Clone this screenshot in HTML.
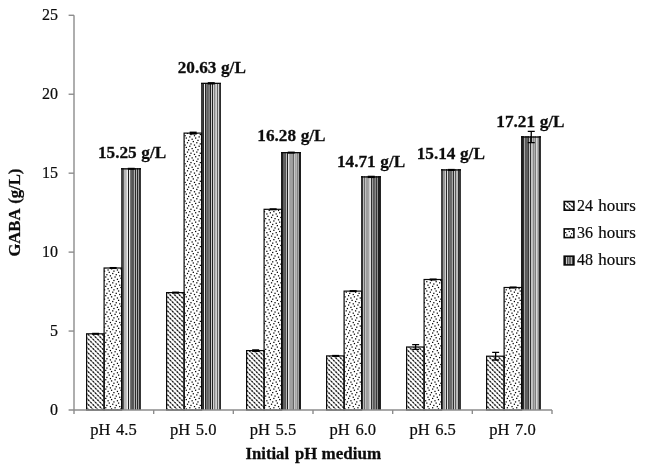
<!DOCTYPE html>
<html lang="en"><head><meta charset="utf-8"><title>GABA vs initial pH</title>
<style>
html,body{margin:0;padding:0;background:#fff;}
body{width:645px;height:472px;overflow:hidden;}
svg{display:block;}
text{font-family:"Liberation Serif","Times New Roman",serif;font-size:16px;fill:#0c0c0c;stroke:#0c0c0c;stroke-width:0.2px;}
.b{font-weight:bold;stroke-width:0.25px;}
</style></head><body>
<svg width="645" height="472" viewBox="0 0 645 472">
<defs>
<clipPath id="c24"><rect x="86.6" y="333.8" width="17.5" height="76.2"/><rect x="166.6" y="292.6" width="17.5" height="117.4"/><rect x="246.6" y="350.6" width="17.5" height="59.4"/><rect x="326.6" y="355.9" width="17.5" height="54.1"/><rect x="406.6" y="347" width="17.5" height="63"/><rect x="486.6" y="356.2" width="17.5" height="53.8"/><rect x="564.2" y="201.5" width="9.7" height="8.7"/></clipPath>
<clipPath id="c36"><rect x="104.1" y="268" width="17.5" height="142"/><rect x="184.1" y="133.1" width="17.5" height="276.9"/><rect x="264.1" y="209.3" width="17.5" height="200.7"/><rect x="344.1" y="291.1" width="17.5" height="118.9"/><rect x="424.1" y="279.5" width="17.5" height="130.5"/><rect x="504.1" y="287.5" width="17.5" height="122.5"/><rect x="564.2" y="228.9" width="9.7" height="8.7"/></clipPath>
<clipPath id="c48"><rect x="121.6" y="168.8" width="18.7" height="241.2"/><rect x="201.6" y="83.3" width="18.7" height="326.7"/><rect x="281.6" y="152.6" width="18.7" height="257.4"/><rect x="361.6" y="176.9" width="18.7" height="233.1"/><rect x="441.6" y="169.9" width="18.7" height="240.1"/><rect x="521.6" y="137" width="18.7" height="273"/><rect x="564.2" y="256.2" width="9.7" height="8.7"/></clipPath>
<g id="t"><rect x="0" y="0" width="1.25" height="1.25"/><rect x="3.5" y="1.17" width="1.25" height="1.25"/><rect x="7" y="2.33" width="1.25" height="1.25"/><rect x="2.33" y="3.5" width="1.25" height="1.25"/><rect x="8.17" y="4.67" width="1.25" height="1.25"/><rect x="4.67" y="5.84" width="1.25" height="1.25"/><rect x="1.17" y="7" width="1.25" height="1.25"/><rect x="5.84" y="8.17" width="1.25" height="1.25"/></g>
</defs>
<rect width="645" height="472" fill="#fff"/>
<g clip-path="url(#c24)" fill="none"><path d="M574.35,194.81L578,198.46M569.68,194.81L578,203.13M565.01,194.81L578,207.8M560.34,194.81L578,212.47M555.67,194.81L578,217.14M551,194.81L578,221.81M546.33,194.81L578,226.48M541.66,194.81L578,231.15M536.99,194.81L578,235.82M532.32,194.81L578,240.49M527.65,194.81L578,245.16M522.98,194.81L578,249.83M518.31,194.81L578,254.5M513.64,194.81L578,259.17M508.97,194.81L578,263.84M504.3,194.81L578,268.51M499.63,194.81L578,273.18M494.96,194.81L578,277.85M490.29,194.81L578,282.52M485.62,194.81L578,287.19M480.95,194.81L578,291.86M476.28,194.81L578,296.53M471.61,194.81L578,301.2M466.94,194.81L578,305.87M462.27,194.81L578,310.54M457.6,194.81L578,315.21M452.93,194.81L578,319.88M448.26,194.81L578,324.55M443.59,194.81L578,329.22M438.92,194.81L578,333.89M434.25,194.81L578,338.56M429.58,194.81L578,343.23M424.91,194.81L578,347.9M420.24,194.81L578,352.57M415.57,194.81L578,357.24M410.9,194.81L578,361.91M406.23,194.81L578,366.58M401.56,194.81L578,371.25M396.89,194.81L578,375.92M392.22,194.81L578,380.59M387.55,194.81L578,385.26M382.88,194.81L578,389.93M378.21,194.81L578,394.6M373.54,194.81L578,399.27M368.87,194.81L578,403.94M364.2,194.81L578,408.61M359.53,194.81L576.72,412M354.86,194.81L572.05,412M350.19,194.81L567.38,412M345.52,194.81L562.71,412M340.85,194.81L558.04,412M336.18,194.81L553.37,412M331.51,194.81L548.7,412M326.84,194.81L544.03,412M322.17,194.81L539.36,412M317.5,194.81L534.69,412M312.83,194.81L530.02,412M308.16,194.81L525.35,412M303.49,194.81L520.68,412M298.82,194.81L516.01,412M294.15,194.81L511.34,412M289.48,194.81L506.67,412M284.81,194.81L502,412M280.14,194.81L497.33,412M275.47,194.81L492.66,412M270.8,194.81L487.99,412M266.13,194.81L483.32,412M261.46,194.81L478.65,412M256.79,194.81L473.98,412M252.12,194.81L469.31,412M247.45,194.81L464.64,412M242.78,194.81L459.97,412M238.11,194.81L455.3,412M233.44,194.81L450.63,412M228.77,194.81L445.96,412M224.1,194.81L441.29,412M219.43,194.81L436.62,412M214.76,194.81L431.95,412M210.09,194.81L427.28,412M205.42,194.81L422.61,412M200.75,194.81L417.94,412M196.08,194.81L413.27,412M191.41,194.81L408.6,412M186.74,194.81L403.93,412M182.07,194.81L399.26,412M177.4,194.81L394.59,412M172.73,194.81L389.92,412M168.06,194.81L385.25,412M163.39,194.81L380.58,412M158.72,194.81L375.91,412M154.05,194.81L371.24,412M149.38,194.81L366.57,412M144.71,194.81L361.9,412M140.04,194.81L357.23,412M135.37,194.81L352.56,412M130.7,194.81L347.89,412M126.03,194.81L343.22,412M121.36,194.81L338.55,412M116.69,194.81L333.88,412M112.02,194.81L329.21,412M107.35,194.81L324.54,412M102.68,194.81L319.87,412M98.01,194.81L315.2,412M93.34,194.81L310.53,412M88.67,194.81L305.86,412M84,194.81L301.19,412M84,199.48L296.52,412M84,204.15L291.85,412M84,208.82L287.18,412M84,213.49L282.51,412M84,218.16L277.84,412M84,222.83L273.17,412M84,227.5L268.5,412M84,232.17L263.83,412M84,236.84L259.16,412M84,241.51L254.49,412M84,246.18L249.82,412M84,250.85L245.15,412M84,255.52L240.48,412M84,260.19L235.81,412M84,264.86L231.14,412M84,269.53L226.47,412M84,274.2L221.8,412M84,278.87L217.13,412M84,283.54L212.46,412M84,288.21L207.79,412M84,292.88L203.12,412M84,297.55L198.45,412M84,302.22L193.78,412M84,306.89L189.11,412M84,311.56L184.44,412M84,316.23L179.77,412M84,320.9L175.1,412M84,325.57L170.43,412M84,330.24L165.76,412M84,334.91L161.09,412M84,339.58L156.42,412M84,344.25L151.75,412M84,348.92L147.08,412M84,353.59L142.41,412M84,358.26L137.74,412M84,362.93L133.07,412M84,367.6L128.4,412M84,372.27L123.73,412M84,376.94L119.06,412M84,381.61L114.39,412M84,386.28L109.72,412M84,390.95L105.05,412M84,395.62L100.38,412M84,400.29L95.71,412M84,404.96L91.04,412M84,409.63L86.37,412" stroke="#888" stroke-width="1.2"/>
<path d="M574.35,194.81L578,198.46M569.68,194.81L578,203.13M565.01,194.81L578,207.8M560.34,194.81L578,212.47M555.67,194.81L578,217.14M551,194.81L578,221.81M546.33,194.81L578,226.48M541.66,194.81L578,231.15M536.99,194.81L578,235.82M532.32,194.81L578,240.49M527.65,194.81L578,245.16M522.98,194.81L578,249.83M518.31,194.81L578,254.5M513.64,194.81L578,259.17M508.97,194.81L578,263.84M504.3,194.81L578,268.51M499.63,194.81L578,273.18M494.96,194.81L578,277.85M490.29,194.81L578,282.52M485.62,194.81L578,287.19M480.95,194.81L578,291.86M476.28,194.81L578,296.53M471.61,194.81L578,301.2M466.94,194.81L578,305.87M462.27,194.81L578,310.54M457.6,194.81L578,315.21M452.93,194.81L578,319.88M448.26,194.81L578,324.55M443.59,194.81L578,329.22M438.92,194.81L578,333.89M434.25,194.81L578,338.56M429.58,194.81L578,343.23M424.91,194.81L578,347.9M420.24,194.81L578,352.57M415.57,194.81L578,357.24M410.9,194.81L578,361.91M406.23,194.81L578,366.58M401.56,194.81L578,371.25M396.89,194.81L578,375.92M392.22,194.81L578,380.59M387.55,194.81L578,385.26M382.88,194.81L578,389.93M378.21,194.81L578,394.6M373.54,194.81L578,399.27M368.87,194.81L578,403.94M364.2,194.81L578,408.61M359.53,194.81L576.72,412M354.86,194.81L572.05,412M350.19,194.81L567.38,412M345.52,194.81L562.71,412M340.85,194.81L558.04,412M336.18,194.81L553.37,412M331.51,194.81L548.7,412M326.84,194.81L544.03,412M322.17,194.81L539.36,412M317.5,194.81L534.69,412M312.83,194.81L530.02,412M308.16,194.81L525.35,412M303.49,194.81L520.68,412M298.82,194.81L516.01,412M294.15,194.81L511.34,412M289.48,194.81L506.67,412M284.81,194.81L502,412M280.14,194.81L497.33,412M275.47,194.81L492.66,412M270.8,194.81L487.99,412M266.13,194.81L483.32,412M261.46,194.81L478.65,412M256.79,194.81L473.98,412M252.12,194.81L469.31,412M247.45,194.81L464.64,412M242.78,194.81L459.97,412M238.11,194.81L455.3,412M233.44,194.81L450.63,412M228.77,194.81L445.96,412M224.1,194.81L441.29,412M219.43,194.81L436.62,412M214.76,194.81L431.95,412M210.09,194.81L427.28,412M205.42,194.81L422.61,412M200.75,194.81L417.94,412M196.08,194.81L413.27,412M191.41,194.81L408.6,412M186.74,194.81L403.93,412M182.07,194.81L399.26,412M177.4,194.81L394.59,412M172.73,194.81L389.92,412M168.06,194.81L385.25,412M163.39,194.81L380.58,412M158.72,194.81L375.91,412M154.05,194.81L371.24,412M149.38,194.81L366.57,412M144.71,194.81L361.9,412M140.04,194.81L357.23,412M135.37,194.81L352.56,412M130.7,194.81L347.89,412M126.03,194.81L343.22,412M121.36,194.81L338.55,412M116.69,194.81L333.88,412M112.02,194.81L329.21,412M107.35,194.81L324.54,412M102.68,194.81L319.87,412M98.01,194.81L315.2,412M93.34,194.81L310.53,412M88.67,194.81L305.86,412M84,194.81L301.19,412M84,199.48L296.52,412M84,204.15L291.85,412M84,208.82L287.18,412M84,213.49L282.51,412M84,218.16L277.84,412M84,222.83L273.17,412M84,227.5L268.5,412M84,232.17L263.83,412M84,236.84L259.16,412M84,241.51L254.49,412M84,246.18L249.82,412M84,250.85L245.15,412M84,255.52L240.48,412M84,260.19L235.81,412M84,264.86L231.14,412M84,269.53L226.47,412M84,274.2L221.8,412M84,278.87L217.13,412M84,283.54L212.46,412M84,288.21L207.79,412M84,292.88L203.12,412M84,297.55L198.45,412M84,302.22L193.78,412M84,306.89L189.11,412M84,311.56L184.44,412M84,316.23L179.77,412M84,320.9L175.1,412M84,325.57L170.43,412M84,330.24L165.76,412M84,334.91L161.09,412M84,339.58L156.42,412M84,344.25L151.75,412M84,348.92L147.08,412M84,353.59L142.41,412M84,358.26L137.74,412M84,362.93L133.07,412M84,367.6L128.4,412M84,372.27L123.73,412M84,376.94L119.06,412M84,381.61L114.39,412M84,386.28L109.72,412M84,390.95L105.05,412M84,395.62L100.38,412M84,400.29L95.71,412M84,404.96L91.04,412M84,409.63L86.37,412" stroke="#141414" stroke-width="1.25" stroke-dasharray="1.45 1.8522" stroke-dashoffset="0.72"/></g>
<g clip-path="url(#c36)" fill="#000">
<use href="#t" x="102.79" y="263.54"/>
<use href="#t" x="102.79" y="272.88"/>
<use href="#t" x="102.79" y="282.22"/>
<use href="#t" x="102.79" y="291.56"/>
<use href="#t" x="102.79" y="300.9"/>
<use href="#t" x="102.79" y="310.24"/>
<use href="#t" x="102.79" y="319.58"/>
<use href="#t" x="102.79" y="328.92"/>
<use href="#t" x="102.79" y="338.26"/>
<use href="#t" x="102.79" y="347.6"/>
<use href="#t" x="102.79" y="356.94"/>
<use href="#t" x="102.79" y="366.28"/>
<use href="#t" x="102.79" y="375.62"/>
<use href="#t" x="102.79" y="384.96"/>
<use href="#t" x="102.79" y="394.3"/>
<use href="#t" x="102.79" y="403.64"/>
<use href="#t" x="112.13" y="263.54"/>
<use href="#t" x="112.13" y="272.88"/>
<use href="#t" x="112.13" y="282.22"/>
<use href="#t" x="112.13" y="291.56"/>
<use href="#t" x="112.13" y="300.9"/>
<use href="#t" x="112.13" y="310.24"/>
<use href="#t" x="112.13" y="319.58"/>
<use href="#t" x="112.13" y="328.92"/>
<use href="#t" x="112.13" y="338.26"/>
<use href="#t" x="112.13" y="347.6"/>
<use href="#t" x="112.13" y="356.94"/>
<use href="#t" x="112.13" y="366.28"/>
<use href="#t" x="112.13" y="375.62"/>
<use href="#t" x="112.13" y="384.96"/>
<use href="#t" x="112.13" y="394.3"/>
<use href="#t" x="112.13" y="403.64"/>
<use href="#t" x="121.47" y="263.54"/>
<use href="#t" x="121.47" y="272.88"/>
<use href="#t" x="121.47" y="282.22"/>
<use href="#t" x="121.47" y="291.56"/>
<use href="#t" x="121.47" y="300.9"/>
<use href="#t" x="121.47" y="310.24"/>
<use href="#t" x="121.47" y="319.58"/>
<use href="#t" x="121.47" y="328.92"/>
<use href="#t" x="121.47" y="338.26"/>
<use href="#t" x="121.47" y="347.6"/>
<use href="#t" x="121.47" y="356.94"/>
<use href="#t" x="121.47" y="366.28"/>
<use href="#t" x="121.47" y="375.62"/>
<use href="#t" x="121.47" y="384.96"/>
<use href="#t" x="121.47" y="394.3"/>
<use href="#t" x="121.47" y="403.64"/>
<use href="#t" x="177.51" y="132.78"/>
<use href="#t" x="177.51" y="142.12"/>
<use href="#t" x="177.51" y="151.46"/>
<use href="#t" x="177.51" y="160.8"/>
<use href="#t" x="177.51" y="170.14"/>
<use href="#t" x="177.51" y="179.48"/>
<use href="#t" x="177.51" y="188.82"/>
<use href="#t" x="177.51" y="198.16"/>
<use href="#t" x="177.51" y="207.5"/>
<use href="#t" x="177.51" y="216.84"/>
<use href="#t" x="177.51" y="226.18"/>
<use href="#t" x="177.51" y="235.52"/>
<use href="#t" x="177.51" y="244.86"/>
<use href="#t" x="177.51" y="254.2"/>
<use href="#t" x="177.51" y="263.54"/>
<use href="#t" x="177.51" y="272.88"/>
<use href="#t" x="177.51" y="282.22"/>
<use href="#t" x="177.51" y="291.56"/>
<use href="#t" x="177.51" y="300.9"/>
<use href="#t" x="177.51" y="310.24"/>
<use href="#t" x="177.51" y="319.58"/>
<use href="#t" x="177.51" y="328.92"/>
<use href="#t" x="177.51" y="338.26"/>
<use href="#t" x="177.51" y="347.6"/>
<use href="#t" x="177.51" y="356.94"/>
<use href="#t" x="177.51" y="366.28"/>
<use href="#t" x="177.51" y="375.62"/>
<use href="#t" x="177.51" y="384.96"/>
<use href="#t" x="177.51" y="394.3"/>
<use href="#t" x="177.51" y="403.64"/>
<use href="#t" x="186.85" y="132.78"/>
<use href="#t" x="186.85" y="142.12"/>
<use href="#t" x="186.85" y="151.46"/>
<use href="#t" x="186.85" y="160.8"/>
<use href="#t" x="186.85" y="170.14"/>
<use href="#t" x="186.85" y="179.48"/>
<use href="#t" x="186.85" y="188.82"/>
<use href="#t" x="186.85" y="198.16"/>
<use href="#t" x="186.85" y="207.5"/>
<use href="#t" x="186.85" y="216.84"/>
<use href="#t" x="186.85" y="226.18"/>
<use href="#t" x="186.85" y="235.52"/>
<use href="#t" x="186.85" y="244.86"/>
<use href="#t" x="186.85" y="254.2"/>
<use href="#t" x="186.85" y="263.54"/>
<use href="#t" x="186.85" y="272.88"/>
<use href="#t" x="186.85" y="282.22"/>
<use href="#t" x="186.85" y="291.56"/>
<use href="#t" x="186.85" y="300.9"/>
<use href="#t" x="186.85" y="310.24"/>
<use href="#t" x="186.85" y="319.58"/>
<use href="#t" x="186.85" y="328.92"/>
<use href="#t" x="186.85" y="338.26"/>
<use href="#t" x="186.85" y="347.6"/>
<use href="#t" x="186.85" y="356.94"/>
<use href="#t" x="186.85" y="366.28"/>
<use href="#t" x="186.85" y="375.62"/>
<use href="#t" x="186.85" y="384.96"/>
<use href="#t" x="186.85" y="394.3"/>
<use href="#t" x="186.85" y="403.64"/>
<use href="#t" x="196.19" y="132.78"/>
<use href="#t" x="196.19" y="142.12"/>
<use href="#t" x="196.19" y="151.46"/>
<use href="#t" x="196.19" y="160.8"/>
<use href="#t" x="196.19" y="170.14"/>
<use href="#t" x="196.19" y="179.48"/>
<use href="#t" x="196.19" y="188.82"/>
<use href="#t" x="196.19" y="198.16"/>
<use href="#t" x="196.19" y="207.5"/>
<use href="#t" x="196.19" y="216.84"/>
<use href="#t" x="196.19" y="226.18"/>
<use href="#t" x="196.19" y="235.52"/>
<use href="#t" x="196.19" y="244.86"/>
<use href="#t" x="196.19" y="254.2"/>
<use href="#t" x="196.19" y="263.54"/>
<use href="#t" x="196.19" y="272.88"/>
<use href="#t" x="196.19" y="282.22"/>
<use href="#t" x="196.19" y="291.56"/>
<use href="#t" x="196.19" y="300.9"/>
<use href="#t" x="196.19" y="310.24"/>
<use href="#t" x="196.19" y="319.58"/>
<use href="#t" x="196.19" y="328.92"/>
<use href="#t" x="196.19" y="338.26"/>
<use href="#t" x="196.19" y="347.6"/>
<use href="#t" x="196.19" y="356.94"/>
<use href="#t" x="196.19" y="366.28"/>
<use href="#t" x="196.19" y="375.62"/>
<use href="#t" x="196.19" y="384.96"/>
<use href="#t" x="196.19" y="394.3"/>
<use href="#t" x="196.19" y="403.64"/>
<use href="#t" x="261.57" y="207.5"/>
<use href="#t" x="261.57" y="216.84"/>
<use href="#t" x="261.57" y="226.18"/>
<use href="#t" x="261.57" y="235.52"/>
<use href="#t" x="261.57" y="244.86"/>
<use href="#t" x="261.57" y="254.2"/>
<use href="#t" x="261.57" y="263.54"/>
<use href="#t" x="261.57" y="272.88"/>
<use href="#t" x="261.57" y="282.22"/>
<use href="#t" x="261.57" y="291.56"/>
<use href="#t" x="261.57" y="300.9"/>
<use href="#t" x="261.57" y="310.24"/>
<use href="#t" x="261.57" y="319.58"/>
<use href="#t" x="261.57" y="328.92"/>
<use href="#t" x="261.57" y="338.26"/>
<use href="#t" x="261.57" y="347.6"/>
<use href="#t" x="261.57" y="356.94"/>
<use href="#t" x="261.57" y="366.28"/>
<use href="#t" x="261.57" y="375.62"/>
<use href="#t" x="261.57" y="384.96"/>
<use href="#t" x="261.57" y="394.3"/>
<use href="#t" x="261.57" y="403.64"/>
<use href="#t" x="270.91" y="207.5"/>
<use href="#t" x="270.91" y="216.84"/>
<use href="#t" x="270.91" y="226.18"/>
<use href="#t" x="270.91" y="235.52"/>
<use href="#t" x="270.91" y="244.86"/>
<use href="#t" x="270.91" y="254.2"/>
<use href="#t" x="270.91" y="263.54"/>
<use href="#t" x="270.91" y="272.88"/>
<use href="#t" x="270.91" y="282.22"/>
<use href="#t" x="270.91" y="291.56"/>
<use href="#t" x="270.91" y="300.9"/>
<use href="#t" x="270.91" y="310.24"/>
<use href="#t" x="270.91" y="319.58"/>
<use href="#t" x="270.91" y="328.92"/>
<use href="#t" x="270.91" y="338.26"/>
<use href="#t" x="270.91" y="347.6"/>
<use href="#t" x="270.91" y="356.94"/>
<use href="#t" x="270.91" y="366.28"/>
<use href="#t" x="270.91" y="375.62"/>
<use href="#t" x="270.91" y="384.96"/>
<use href="#t" x="270.91" y="394.3"/>
<use href="#t" x="270.91" y="403.64"/>
<use href="#t" x="280.25" y="207.5"/>
<use href="#t" x="280.25" y="216.84"/>
<use href="#t" x="280.25" y="226.18"/>
<use href="#t" x="280.25" y="235.52"/>
<use href="#t" x="280.25" y="244.86"/>
<use href="#t" x="280.25" y="254.2"/>
<use href="#t" x="280.25" y="263.54"/>
<use href="#t" x="280.25" y="272.88"/>
<use href="#t" x="280.25" y="282.22"/>
<use href="#t" x="280.25" y="291.56"/>
<use href="#t" x="280.25" y="300.9"/>
<use href="#t" x="280.25" y="310.24"/>
<use href="#t" x="280.25" y="319.58"/>
<use href="#t" x="280.25" y="328.92"/>
<use href="#t" x="280.25" y="338.26"/>
<use href="#t" x="280.25" y="347.6"/>
<use href="#t" x="280.25" y="356.94"/>
<use href="#t" x="280.25" y="366.28"/>
<use href="#t" x="280.25" y="375.62"/>
<use href="#t" x="280.25" y="384.96"/>
<use href="#t" x="280.25" y="394.3"/>
<use href="#t" x="280.25" y="403.64"/>
<use href="#t" x="336.29" y="282.22"/>
<use href="#t" x="336.29" y="291.56"/>
<use href="#t" x="336.29" y="300.9"/>
<use href="#t" x="336.29" y="310.24"/>
<use href="#t" x="336.29" y="319.58"/>
<use href="#t" x="336.29" y="328.92"/>
<use href="#t" x="336.29" y="338.26"/>
<use href="#t" x="336.29" y="347.6"/>
<use href="#t" x="336.29" y="356.94"/>
<use href="#t" x="336.29" y="366.28"/>
<use href="#t" x="336.29" y="375.62"/>
<use href="#t" x="336.29" y="384.96"/>
<use href="#t" x="336.29" y="394.3"/>
<use href="#t" x="336.29" y="403.64"/>
<use href="#t" x="345.63" y="282.22"/>
<use href="#t" x="345.63" y="291.56"/>
<use href="#t" x="345.63" y="300.9"/>
<use href="#t" x="345.63" y="310.24"/>
<use href="#t" x="345.63" y="319.58"/>
<use href="#t" x="345.63" y="328.92"/>
<use href="#t" x="345.63" y="338.26"/>
<use href="#t" x="345.63" y="347.6"/>
<use href="#t" x="345.63" y="356.94"/>
<use href="#t" x="345.63" y="366.28"/>
<use href="#t" x="345.63" y="375.62"/>
<use href="#t" x="345.63" y="384.96"/>
<use href="#t" x="345.63" y="394.3"/>
<use href="#t" x="345.63" y="403.64"/>
<use href="#t" x="354.97" y="282.22"/>
<use href="#t" x="354.97" y="291.56"/>
<use href="#t" x="354.97" y="300.9"/>
<use href="#t" x="354.97" y="310.24"/>
<use href="#t" x="354.97" y="319.58"/>
<use href="#t" x="354.97" y="328.92"/>
<use href="#t" x="354.97" y="338.26"/>
<use href="#t" x="354.97" y="347.6"/>
<use href="#t" x="354.97" y="356.94"/>
<use href="#t" x="354.97" y="366.28"/>
<use href="#t" x="354.97" y="375.62"/>
<use href="#t" x="354.97" y="384.96"/>
<use href="#t" x="354.97" y="394.3"/>
<use href="#t" x="354.97" y="403.64"/>
<use href="#t" x="420.35" y="272.88"/>
<use href="#t" x="420.35" y="282.22"/>
<use href="#t" x="420.35" y="291.56"/>
<use href="#t" x="420.35" y="300.9"/>
<use href="#t" x="420.35" y="310.24"/>
<use href="#t" x="420.35" y="319.58"/>
<use href="#t" x="420.35" y="328.92"/>
<use href="#t" x="420.35" y="338.26"/>
<use href="#t" x="420.35" y="347.6"/>
<use href="#t" x="420.35" y="356.94"/>
<use href="#t" x="420.35" y="366.28"/>
<use href="#t" x="420.35" y="375.62"/>
<use href="#t" x="420.35" y="384.96"/>
<use href="#t" x="420.35" y="394.3"/>
<use href="#t" x="420.35" y="403.64"/>
<use href="#t" x="429.69" y="272.88"/>
<use href="#t" x="429.69" y="282.22"/>
<use href="#t" x="429.69" y="291.56"/>
<use href="#t" x="429.69" y="300.9"/>
<use href="#t" x="429.69" y="310.24"/>
<use href="#t" x="429.69" y="319.58"/>
<use href="#t" x="429.69" y="328.92"/>
<use href="#t" x="429.69" y="338.26"/>
<use href="#t" x="429.69" y="347.6"/>
<use href="#t" x="429.69" y="356.94"/>
<use href="#t" x="429.69" y="366.28"/>
<use href="#t" x="429.69" y="375.62"/>
<use href="#t" x="429.69" y="384.96"/>
<use href="#t" x="429.69" y="394.3"/>
<use href="#t" x="429.69" y="403.64"/>
<use href="#t" x="439.03" y="272.88"/>
<use href="#t" x="439.03" y="282.22"/>
<use href="#t" x="439.03" y="291.56"/>
<use href="#t" x="439.03" y="300.9"/>
<use href="#t" x="439.03" y="310.24"/>
<use href="#t" x="439.03" y="319.58"/>
<use href="#t" x="439.03" y="328.92"/>
<use href="#t" x="439.03" y="338.26"/>
<use href="#t" x="439.03" y="347.6"/>
<use href="#t" x="439.03" y="356.94"/>
<use href="#t" x="439.03" y="366.28"/>
<use href="#t" x="439.03" y="375.62"/>
<use href="#t" x="439.03" y="384.96"/>
<use href="#t" x="439.03" y="394.3"/>
<use href="#t" x="439.03" y="403.64"/>
<use href="#t" x="495.07" y="282.22"/>
<use href="#t" x="495.07" y="291.56"/>
<use href="#t" x="495.07" y="300.9"/>
<use href="#t" x="495.07" y="310.24"/>
<use href="#t" x="495.07" y="319.58"/>
<use href="#t" x="495.07" y="328.92"/>
<use href="#t" x="495.07" y="338.26"/>
<use href="#t" x="495.07" y="347.6"/>
<use href="#t" x="495.07" y="356.94"/>
<use href="#t" x="495.07" y="366.28"/>
<use href="#t" x="495.07" y="375.62"/>
<use href="#t" x="495.07" y="384.96"/>
<use href="#t" x="495.07" y="394.3"/>
<use href="#t" x="495.07" y="403.64"/>
<use href="#t" x="504.41" y="282.22"/>
<use href="#t" x="504.41" y="291.56"/>
<use href="#t" x="504.41" y="300.9"/>
<use href="#t" x="504.41" y="310.24"/>
<use href="#t" x="504.41" y="319.58"/>
<use href="#t" x="504.41" y="328.92"/>
<use href="#t" x="504.41" y="338.26"/>
<use href="#t" x="504.41" y="347.6"/>
<use href="#t" x="504.41" y="356.94"/>
<use href="#t" x="504.41" y="366.28"/>
<use href="#t" x="504.41" y="375.62"/>
<use href="#t" x="504.41" y="384.96"/>
<use href="#t" x="504.41" y="394.3"/>
<use href="#t" x="504.41" y="403.64"/>
<use href="#t" x="513.75" y="282.22"/>
<use href="#t" x="513.75" y="291.56"/>
<use href="#t" x="513.75" y="300.9"/>
<use href="#t" x="513.75" y="310.24"/>
<use href="#t" x="513.75" y="319.58"/>
<use href="#t" x="513.75" y="328.92"/>
<use href="#t" x="513.75" y="338.26"/>
<use href="#t" x="513.75" y="347.6"/>
<use href="#t" x="513.75" y="356.94"/>
<use href="#t" x="513.75" y="366.28"/>
<use href="#t" x="513.75" y="375.62"/>
<use href="#t" x="513.75" y="384.96"/>
<use href="#t" x="513.75" y="394.3"/>
<use href="#t" x="513.75" y="403.64"/>
<use href="#t" x="560.45" y="226.18"/>
<use href="#t" x="560.45" y="235.52"/>
<use href="#t" x="569.79" y="226.18"/>
<use href="#t" x="569.79" y="235.52"/>
</g>
<g shape-rendering="crispEdges">
<rect x="121" y="168.2" width="1" height="241.8" fill="#444444"/>
<rect x="122" y="168.2" width="1" height="241.8" fill="#414141"/>
<rect x="123" y="168.2" width="1" height="241.8" fill="#5b5b5b"/>
<rect x="124" y="168.2" width="1" height="241.8" fill="#b7b7b7"/>
<rect x="125" y="168.2" width="1" height="241.8" fill="#b7b7b7"/>
<rect x="126" y="168.2" width="1" height="241.8" fill="#c7c7c7"/>
<rect x="127" y="168.2" width="1" height="241.8" fill="#eeeeee"/>
<rect x="128" y="168.2" width="1" height="241.8" fill="#1e1e1e"/>
<rect x="129" y="168.2" width="1" height="241.8" fill="#e7e7e7"/>
<rect x="130" y="168.2" width="1" height="241.8" fill="#767676"/>
<rect x="131" y="168.2" width="1" height="241.8" fill="#5e5e5e"/>
<rect x="132" y="168.2" width="1" height="241.8" fill="#565656"/>
<rect x="133" y="168.2" width="1" height="241.8" fill="#5a5a5a"/>
<rect x="134" y="168.2" width="1" height="241.8" fill="#b0b0b0"/>
<rect x="135" y="168.2" width="1" height="241.8" fill="#282828"/>
<rect x="136" y="168.2" width="1" height="241.8" fill="#b4b4b4"/>
<rect x="137" y="168.2" width="1" height="241.8" fill="#2a2a2a"/>
<rect x="138" y="168.2" width="1" height="241.8" fill="#a1a1a1"/>
<rect x="139" y="168.2" width="1" height="241.8" fill="#2f2f2f"/>
<rect x="140" y="168.2" width="1" height="241.8" fill="#383838"/>
<rect x="201" y="82.7" width="1" height="327.3" fill="#3a3a3a"/>
<rect x="202" y="82.7" width="1" height="327.3" fill="#3a3a3a"/>
<rect x="203" y="82.7" width="1" height="327.3" fill="#2b2b2b"/>
<rect x="204" y="82.7" width="1" height="327.3" fill="#eeeeee"/>
<rect x="205" y="82.7" width="1" height="327.3" fill="#262626"/>
<rect x="206" y="82.7" width="1" height="327.3" fill="#777777"/>
<rect x="207" y="82.7" width="1" height="327.3" fill="#626262"/>
<rect x="208" y="82.7" width="1" height="327.3" fill="#707070"/>
<rect x="209" y="82.7" width="1" height="327.3" fill="#808080"/>
<rect x="210" y="82.7" width="1" height="327.3" fill="#202020"/>
<rect x="211" y="82.7" width="1" height="327.3" fill="#cdcdcd"/>
<rect x="212" y="82.7" width="1" height="327.3" fill="#232323"/>
<rect x="213" y="82.7" width="1" height="327.3" fill="#d2d2d2"/>
<rect x="214" y="82.7" width="1" height="327.3" fill="#878787"/>
<rect x="215" y="82.7" width="1" height="327.3" fill="#bababa"/>
<rect x="216" y="82.7" width="1" height="327.3" fill="#d2d2d2"/>
<rect x="217" y="82.7" width="1" height="327.3" fill="#646464"/>
<rect x="218" y="82.7" width="1" height="327.3" fill="#d3d3d3"/>
<rect x="219" y="82.7" width="1" height="327.3" fill="#484848"/>
<rect x="220" y="82.7" width="1" height="327.3" fill="#2d2d2d"/>
<rect x="281" y="152" width="1" height="258" fill="#1e1e1e"/>
<rect x="282" y="152" width="1" height="258" fill="#1e1e1e"/>
<rect x="283" y="152" width="1" height="258" fill="#5e5e5e"/>
<rect x="284" y="152" width="1" height="258" fill="#616161"/>
<rect x="285" y="152" width="1" height="258" fill="#595959"/>
<rect x="286" y="152" width="1" height="258" fill="#bdbdbd"/>
<rect x="287" y="152" width="1" height="258" fill="#202020"/>
<rect x="288" y="152" width="1" height="258" fill="#e2e2e2"/>
<rect x="289" y="152" width="1" height="258" fill="#aeaeae"/>
<rect x="290" y="152" width="1" height="258" fill="#9e9e9e"/>
<rect x="291" y="152" width="1" height="258" fill="#a1a1a1"/>
<rect x="292" y="152" width="1" height="258" fill="#9b9b9b"/>
<rect x="293" y="152" width="1" height="258" fill="#646464"/>
<rect x="294" y="152" width="1" height="258" fill="#cacaca"/>
<rect x="295" y="152" width="1" height="258" fill="#a5a5a5"/>
<rect x="296" y="152" width="1" height="258" fill="#b5b5b5"/>
<rect x="297" y="152" width="1" height="258" fill="#828282"/>
<rect x="298" y="152" width="1" height="258" fill="#a7a7a7"/>
<rect x="299" y="152" width="1" height="258" fill="#1e1e1e"/>
<rect x="300" y="152" width="1" height="258" fill="#1e1e1e"/>
<rect x="361" y="176.3" width="1" height="233.7" fill="#323232"/>
<rect x="362" y="176.3" width="1" height="233.7" fill="#303030"/>
<rect x="363" y="176.3" width="1" height="233.7" fill="#bababa"/>
<rect x="364" y="176.3" width="1" height="233.7" fill="#6b6b6b"/>
<rect x="365" y="176.3" width="1" height="233.7" fill="#c1c1c1"/>
<rect x="366" y="176.3" width="1" height="233.7" fill="#9e9e9e"/>
<rect x="367" y="176.3" width="1" height="233.7" fill="#9f9f9f"/>
<rect x="368" y="176.3" width="1" height="233.7" fill="#a6a6a6"/>
<rect x="369" y="176.3" width="1" height="233.7" fill="#cacaca"/>
<rect x="370" y="176.3" width="1" height="233.7" fill="#dfdfdf"/>
<rect x="371" y="176.3" width="1" height="233.7" fill="#2e2e2e"/>
<rect x="372" y="176.3" width="1" height="233.7" fill="#9c9c9c"/>
<rect x="373" y="176.3" width="1" height="233.7" fill="#5a5a5a"/>
<rect x="374" y="176.3" width="1" height="233.7" fill="#666666"/>
<rect x="375" y="176.3" width="1" height="233.7" fill="#888888"/>
<rect x="376" y="176.3" width="1" height="233.7" fill="#383838"/>
<rect x="377" y="176.3" width="1" height="233.7" fill="#919191"/>
<rect x="378" y="176.3" width="1" height="233.7" fill="#1e1e1e"/>
<rect x="379" y="176.3" width="1" height="233.7" fill="#1e1e1e"/>
<rect x="380" y="176.3" width="1" height="233.7" fill="#242424"/>
<rect x="441" y="169.3" width="1" height="240.7" fill="#444444"/>
<rect x="442" y="169.3" width="1" height="240.7" fill="#414141"/>
<rect x="443" y="169.3" width="1" height="240.7" fill="#969696"/>
<rect x="444" y="169.3" width="1" height="240.7" fill="#959595"/>
<rect x="445" y="169.3" width="1" height="240.7" fill="#d0d0d0"/>
<rect x="446" y="169.3" width="1" height="240.7" fill="#2a2a2a"/>
<rect x="447" y="169.3" width="1" height="240.7" fill="#e0e0e0"/>
<rect x="448" y="169.3" width="1" height="240.7" fill="#4b4b4b"/>
<rect x="449" y="169.3" width="1" height="240.7" fill="#6c6c6c"/>
<rect x="450" y="169.3" width="1" height="240.7" fill="#696969"/>
<rect x="451" y="169.3" width="1" height="240.7" fill="#6c6c6c"/>
<rect x="452" y="169.3" width="1" height="240.7" fill="#a6a6a6"/>
<rect x="453" y="169.3" width="1" height="240.7" fill="#303030"/>
<rect x="454" y="169.3" width="1" height="240.7" fill="#cccccc"/>
<rect x="455" y="169.3" width="1" height="240.7" fill="#595959"/>
<rect x="456" y="169.3" width="1" height="240.7" fill="#b7b7b7"/>
<rect x="457" y="169.3" width="1" height="240.7" fill="#bcbcbc"/>
<rect x="458" y="169.3" width="1" height="240.7" fill="#2e2e2e"/>
<rect x="459" y="169.3" width="1" height="240.7" fill="#3a3a3a"/>
<rect x="460" y="169.3" width="1" height="240.7" fill="#3a3a3a"/>
<rect x="521" y="136.4" width="1" height="273.6" fill="#1e1e1e"/>
<rect x="522" y="136.4" width="1" height="273.6" fill="#1e1e1e"/>
<rect x="523" y="136.4" width="1" height="273.6" fill="#2c2c2c"/>
<rect x="524" y="136.4" width="1" height="273.6" fill="#a9a9a9"/>
<rect x="525" y="136.4" width="1" height="273.6" fill="#5a5a5a"/>
<rect x="526" y="136.4" width="1" height="273.6" fill="#606060"/>
<rect x="527" y="136.4" width="1" height="273.6" fill="#626262"/>
<rect x="528" y="136.4" width="1" height="273.6" fill="#3c3c3c"/>
<rect x="529" y="136.4" width="1" height="273.6" fill="#bebebe"/>
<rect x="530" y="136.4" width="1" height="273.6" fill="#2e2e2e"/>
<rect x="531" y="136.4" width="1" height="273.6" fill="#c4c4c4"/>
<rect x="532" y="136.4" width="1" height="273.6" fill="#bcbcbc"/>
<rect x="533" y="136.4" width="1" height="273.6" fill="#8a8a8a"/>
<rect x="534" y="136.4" width="1" height="273.6" fill="#aeaeae"/>
<rect x="535" y="136.4" width="1" height="273.6" fill="#7e7e7e"/>
<rect x="536" y="136.4" width="1" height="273.6" fill="#dadada"/>
<rect x="537" y="136.4" width="1" height="273.6" fill="#b1b1b1"/>
<rect x="538" y="136.4" width="1" height="273.6" fill="#8c8c8c"/>
<rect x="539" y="136.4" width="1" height="273.6" fill="#2a2a2a"/>
<rect x="540" y="136.4" width="1" height="273.6" fill="#333333"/>
<rect x="565" y="256.2" width="1" height="8.7" fill="#222222"/>
<rect x="566" y="256.2" width="1" height="8.7" fill="#cccccc"/>
<rect x="567" y="256.2" width="1" height="8.7" fill="#555555"/>
<rect x="568" y="256.2" width="1" height="8.7" fill="#999999"/>
<rect x="569" y="256.2" width="1" height="8.7" fill="#666666"/>
<rect x="570" y="256.2" width="1" height="8.7" fill="#666666"/>
<rect x="571" y="256.2" width="1" height="8.7" fill="#bbbbbb"/>
<rect x="572" y="256.2" width="1" height="8.7" fill="#444444"/>
<rect x="573" y="256.2" width="1" height="8.7" fill="#222222"/>
</g>
<rect x="86.6" y="333.8" width="17.5" height="76.2" fill="none" stroke="#0a0a0a" stroke-width="1.2"/>
<rect x="92.15" y="332.78" width="7" height="2.05" fill="#000"/>
<rect x="166.6" y="292.6" width="17.5" height="117.4" fill="none" stroke="#0a0a0a" stroke-width="1.2"/>
<rect x="172.15" y="291.58" width="7" height="2.05" fill="#000"/>
<rect x="246.6" y="350.6" width="17.5" height="59.4" fill="none" stroke="#0a0a0a" stroke-width="1.2"/>
<rect x="252.15" y="349.26" width="7" height="2.68" fill="#000"/>
<rect x="326.6" y="355.9" width="17.5" height="54.1" fill="none" stroke="#0a0a0a" stroke-width="1.2"/>
<rect x="332.15" y="354.88" width="7" height="2.05" fill="#000"/>
<rect x="406.6" y="347" width="17.5" height="63" fill="none" stroke="#0a0a0a" stroke-width="1.2"/>
<path d="M415.65,344.69V349.31M412.15,344.69h7M412.15,349.31h7" stroke="#000" stroke-width="1.3" fill="none"/>
<rect x="486.6" y="356.2" width="17.5" height="53.8" fill="none" stroke="#0a0a0a" stroke-width="1.2"/>
<path d="M495.65,352.41V359.99M492.15,352.41h7M492.15,359.99h7" stroke="#000" stroke-width="1.3" fill="none"/>
<rect x="564.2" y="201.5" width="9.7" height="8.7" fill="none" stroke="#0a0a0a" stroke-width="1.6"/>
<rect x="104.1" y="268" width="17.5" height="142" fill="none" stroke="#0a0a0a" stroke-width="1.2"/>
<rect x="109.65" y="266.98" width="7" height="2.05" fill="#000"/>
<rect x="184.1" y="133.1" width="17.5" height="276.9" fill="none" stroke="#0a0a0a" stroke-width="1.2"/>
<rect x="189.65" y="131.6" width="7" height="2.99" fill="#000"/>
<rect x="264.1" y="209.3" width="17.5" height="200.7" fill="none" stroke="#0a0a0a" stroke-width="1.2"/>
<rect x="269.65" y="208.28" width="7" height="2.05" fill="#000"/>
<rect x="344.1" y="291.1" width="17.5" height="118.9" fill="none" stroke="#0a0a0a" stroke-width="1.2"/>
<rect x="349.65" y="290.08" width="7" height="2.05" fill="#000"/>
<rect x="424.1" y="279.5" width="17.5" height="130.5" fill="none" stroke="#0a0a0a" stroke-width="1.2"/>
<rect x="429.65" y="278.48" width="7" height="2.05" fill="#000"/>
<rect x="504.1" y="287.5" width="17.5" height="122.5" fill="none" stroke="#0a0a0a" stroke-width="1.2"/>
<rect x="509.65" y="286.48" width="7" height="2.05" fill="#000"/>
<rect x="564.2" y="228.9" width="9.7" height="8.7" fill="none" stroke="#0a0a0a" stroke-width="1.6"/>
<rect x="121" y="168.2" width="20" height="1.3" fill="#0a0a0a"/>
<rect x="127.75" y="167.78" width="7" height="2.05" fill="#000"/>
<rect x="201" y="82.7" width="20" height="1.3" fill="#0a0a0a"/>
<rect x="207.75" y="82.12" width="7" height="2.36" fill="#000"/>
<rect x="281" y="152" width="20" height="1.3" fill="#0a0a0a"/>
<rect x="287.75" y="151.58" width="7" height="2.05" fill="#000"/>
<rect x="361" y="176.3" width="20" height="1.3" fill="#0a0a0a"/>
<rect x="367.75" y="175.72" width="7" height="2.36" fill="#000"/>
<rect x="441" y="169.3" width="20" height="1.3" fill="#0a0a0a"/>
<rect x="447.75" y="168.88" width="7" height="2.05" fill="#000"/>
<rect x="521" y="136.4" width="20" height="1.3" fill="#0a0a0a"/>
<path d="M531.25,131.32V142.68M527.75,131.32h7M527.75,142.68h7" stroke="#000" stroke-width="1.3" fill="none"/>
<rect x="564.2" y="256.2" width="9.7" height="8.7" fill="none" stroke="#0a0a0a" stroke-width="1.6"/>
<g stroke="#8c8c8c" stroke-width="1.4" fill="none">
<path d="M74.0,15.3 V410.0"/>
<path d="M68.6,410.0 H552.0"/>
<path d="M68.6,331.06 H74.0"/>
<path d="M68.6,252.12 H74.0"/>
<path d="M68.6,173.18 H74.0"/>
<path d="M68.6,94.24 H74.0"/>
<path d="M68.6,15.3 H74.0"/>
<path d="M74,410.0 V414.0"/>
<path d="M153.67,410.0 V414.0"/>
<path d="M233.33,410.0 V414.0"/>
<path d="M313,410.0 V414.0"/>
<path d="M392.67,410.0 V414.0"/>
<path d="M472.33,410.0 V414.0"/>
<path d="M552,410.0 V414.0"/>
</g>
<text x="58" y="414.6" text-anchor="end">0</text>
<text x="58" y="335.66" text-anchor="end">5</text>
<text x="58" y="256.72" text-anchor="end">10</text>
<text x="58" y="177.78" text-anchor="end">15</text>
<text x="58" y="98.84" text-anchor="end">20</text>
<text x="58" y="19.9" text-anchor="end">25</text>
<text transform="translate(90.2,434.9) scale(1.035,1)" word-spacing="1.4">pH 4.5</text>
<text transform="translate(170,434.9) scale(1.035,1)" word-spacing="1.4">pH 5.0</text>
<text transform="translate(249.8,434.9) scale(1.035,1)" word-spacing="1.4">pH 5.5</text>
<text transform="translate(329.6,434.9) scale(1.035,1)" word-spacing="1.4">pH 6.0</text>
<text transform="translate(409.4,434.9) scale(1.035,1)" word-spacing="1.4">pH 6.5</text>
<text transform="translate(489.2,434.9) scale(1.035,1)" word-spacing="1.4">pH 7.0</text>
<text class="b" transform="translate(245.6,459) scale(1.04,1)">Initial</text>
<text class="b" transform="translate(294.9,459) scale(1.04,1)">pH</text>
<text class="b" transform="translate(321.6,459) scale(1.062,1)">medium</text>
<text class="b" transform="translate(20.3,256.6) rotate(-90) scale(1.04,1)" word-spacing="1.5">GABA (g/L)</text>
<text class="b" transform="translate(98,158.0) scale(1.076,1)" word-spacing="0.3">15.25 g/L</text>
<text class="b" transform="translate(177.67,72.6) scale(1.076,1)" word-spacing="0.3">20.63 g/L</text>
<text class="b" transform="translate(257.33,141.2) scale(1.076,1)" word-spacing="0.3">16.28 g/L</text>
<text class="b" transform="translate(337,166.6) scale(1.076,1)" word-spacing="0.3">14.71 g/L</text>
<text class="b" transform="translate(416.67,159.2) scale(1.076,1)" word-spacing="0.3">15.14 g/L</text>
<text class="b" transform="translate(496.33,126.6) scale(1.076,1)" word-spacing="0.3">17.21 g/L</text>
<text x="577" y="210.8">24</text>
<text transform="translate(598.2,210.8) scale(1.06,1)">hours</text>
<text x="577" y="238.3">36</text>
<text transform="translate(598.2,238.3) scale(1.06,1)">hours</text>
<text x="577" y="265.4">48</text>
<text transform="translate(598.2,265.4) scale(1.06,1)">hours</text>
</svg></body></html>
